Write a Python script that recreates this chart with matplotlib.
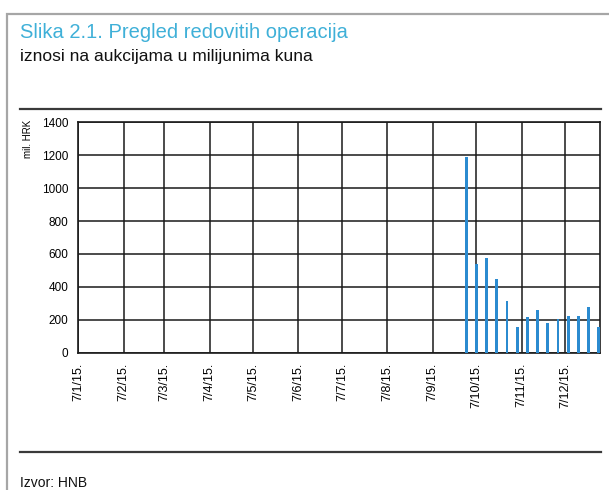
import numpy as np
import matplotlib
matplotlib.use('Agg')
import matplotlib.pyplot as plt
from matplotlib.patches import Rectangle
from matplotlib.lines import Line2D

plt.rcParams['font.family'] = ['Liberation Sans', 'DejaVu Sans']

# podaci: tjedne aukcije (od 30.9.2015.), iznosi u mil. HRK
datumi_aukcija = np.arange(np.datetime64('2015-09-30'), np.datetime64('2016-01-01'), np.timedelta64(7, 'D'))
iznosi = [1190, 540, 577, 446, 314, 158, 219, 259, 182, 203, 223, 223, 276, 158]

# oznake na osi x (7. dan svakog mjeseca)
datumi_oznaka = [np.datetime64('2015-%02d-07' % m) for m in range(1, 13)]
tekst_oznaka = ['7/%d/15.' % m for m in range(1, 13)]
y_oznake = [0, 200, 400, 600, 800, 1000, 1200, 1400]

fig = plt.figure(figsize=(6.09, 4.9), dpi=100)

# okvir slike (sivi rub)
fig.patches.append(Rectangle((7 / 609, -0.1), 1.2, 1 - 14 / 490 + 0.1, transform=fig.transFigure,
                             fill=False, edgecolor='#a6a6a6', linewidth=1.6))

fig.text(20 / 609, 1 - 33 / 490, 'Slika 2.1. Pregled redovitih operacija', color='#3fb0d8',
         fontsize=14.5, va='center', ha='left')
fig.text(20 / 609, 1 - 56 / 490, 'iznosi na aukcijama u milijunima kuna', color='#111111',
         fontsize=12.5, va='center', ha='left')

fig.lines.append(Line2D([20 / 609, 601 / 609], [1 - 109 / 490] * 2, transform=fig.transFigure,
                        color='#3a3a3a', linewidth=1.6))
fig.lines.append(Line2D([20 / 609, 601 / 609], [1 - 452 / 490] * 2, transform=fig.transFigure,
                        color='#3a3a3a', linewidth=1.6))
fig.text(20 / 609, 1 - 483 / 490, 'Izvor: HNB', color='#111111', fontsize=10, va='center', ha='left')

ax = fig.add_axes([78.3 / 609, 1 - 352.7 / 490, (600.3 - 78.3) / 609, (352.7 - 122.3) / 490])
ax.bar(datumi_aukcija, iznosi, width=2.0, color='#2b8bd0', linewidth=0, zorder=3)

ax.set_xlim(np.datetime64('2015-01-07'), np.datetime64('2015-12-31'))
ax.set_ylim(0, 1400)
ax.set_xticks(datumi_oznaka)
ax.set_xticklabels(tekst_oznaka, rotation=90, fontsize=9)
ax.set_yticks(y_oznake)
ax.set_yticklabels([str(v) for v in y_oznake], fontsize=8.5)
ax.tick_params(axis='both', length=0)
ax.tick_params(axis='y', pad=7)
ax.tick_params(axis='x', pad=7)

ax.grid(True, color='#1a1a1a', linewidth=1.1, zorder=0)
for s in ax.spines.values():
    s.set_color('#1a1a1a')
    s.set_linewidth(1.2)

fig.text(28 / 609, 1 - 120 / 490, 'mil. HRK', rotation=90, fontsize=7, va='top', ha='center')

fig.savefig('out.png', dpi=100)
